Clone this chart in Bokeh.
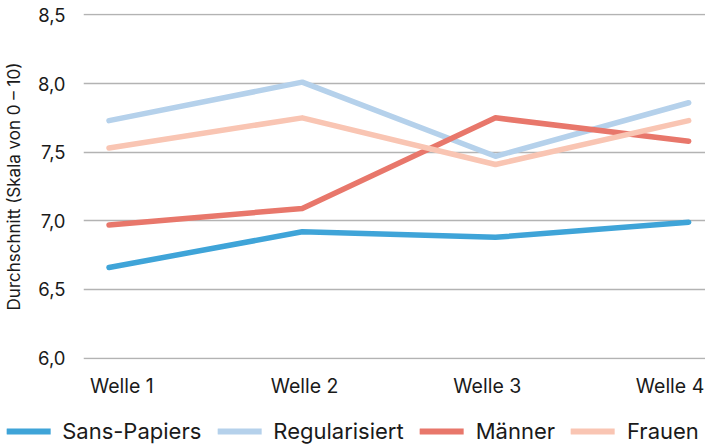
from bokeh.plotting import figure
from bokeh.layouts import column
from bokeh.models import (Range1d, LinearAxis, FixedTicker, CustomJSTickFormatter,
                          Legend, LegendItem)
from bokeh.embed import file_html
from bokeh.resources import INLINE

waves = [1, 2, 3, 4]
wave_labels = ["Welle 1", "Welle 2", "Welle 3", "Welle 4"]
series_names = ["Sans-Papiers", "Regularisiert", "Männer", "Frauen"]
sans_papiers = [6.66, 6.92, 6.88, 6.99]
regularisiert = [7.73, 8.01, 7.47, 7.86]
maenner = [6.97, 7.09, 7.75, 7.58]
frauen = [7.53, 7.75, 7.41, 7.73]
series_values = [sans_papiers, regularisiert, maenner, frauen]
colors = ["#3fa4d8", "#b5d1eb", "#e8776b", "#f9c5b3"]
y_ticks = [6.0, 6.5, 7.0, 7.5, 8.0, 8.5]

FONT = "Inter"
TXT = "#1a1a1a"

p = figure(width=705, height=400, output_backend="svg", toolbar_location=None,
           x_range=Range1d(0.868, 4.087), y_range=Range1d(5.99, 8.51),
           min_border_left=72, min_border_right=0, min_border_top=13,
           min_border_bottom=34)
p.outline_line_color = None
p.background_fill_color = "white"
p.border_fill_color = "white"

p.xaxis.visible = False
p.xgrid.visible = False
p.extra_x_ranges = {"lab": Range1d(0.790, 4.194)}
lab_axis = LinearAxis(x_range_name="lab", ticker=FixedTicker(ticks=waves),
                      major_label_overrides={w: l for w, l in zip(waves, wave_labels)})
lab_axis.axis_line_color = None
lab_axis.major_tick_line_color = None
lab_axis.minor_tick_line_color = None
lab_axis.major_label_standoff = 8
lab_axis.major_label_text_font = FONT
lab_axis.major_label_text_font_size = "19.5px"
lab_axis.major_label_text_color = TXT
p.add_layout(lab_axis, "below")

yax = p.yaxis[0]
yax.ticker = FixedTicker(ticks=y_ticks)
yax.formatter = CustomJSTickFormatter(code="return tick.toFixed(1).replace('.', ',');")
yax.axis_line_color = None
yax.major_tick_line_color = None
yax.minor_tick_line_color = None
yax.major_label_standoff = 12
yax.major_label_text_font = FONT
yax.major_label_text_font_size = "18.5px"
yax.major_label_text_color = TXT
yax.axis_label = "Durchschnitt (Skala von 0 – 10)"
yax.axis_label_text_font = FONT
yax.axis_label_text_font_size = "17px"
yax.axis_label_text_font_style = "normal"
yax.axis_label_text_color = TXT
yax.axis_label_standoff = 11

p.ygrid.ticker = FixedTicker(ticks=y_ticks)
p.ygrid.grid_line_color = "#b3b3b3"
p.ygrid.grid_line_width = 1.5

for name, vals, col in zip(series_names, series_values, colors):
    p.line(waves, vals, line_color=col, line_width=5.5,
           line_cap="round", line_join="round")

# legend strip (own frame, not aligned with the chart frame)
lg = figure(width=705, height=44, output_backend="svg", toolbar_location=None,
            x_axis_location=None, y_axis_location=None, min_border=0)
lg.frame_align = False
lg.outline_line_color = None
lg.grid.visible = False
items = []
for name, vals, col in zip(series_names, series_values, colors):
    r = lg.line(waves, vals, line_color=col, line_width=6, line_cap="round")
    r.visible = False
    items.append(LegendItem(label=name, renderers=[r]))

legend = Legend(items=items, orientation="horizontal", location="bottom_center")
legend.padding = 0
legend.margin = 0
legend.spacing = 16
legend.glyph_width = 44
legend.glyph_height = 20
legend.label_standoff = 12
legend.label_text_font = FONT
legend.label_text_font_size = "22px"
legend.label_text_color = TXT
legend.border_line_color = None
legend.background_fill_alpha = 0
legend.inactive_fill_alpha = 0
lg.add_layout(legend, "center")

layout = column(p, lg, spacing=0)
open("out.html", "w").write(file_html(layout, INLINE))
